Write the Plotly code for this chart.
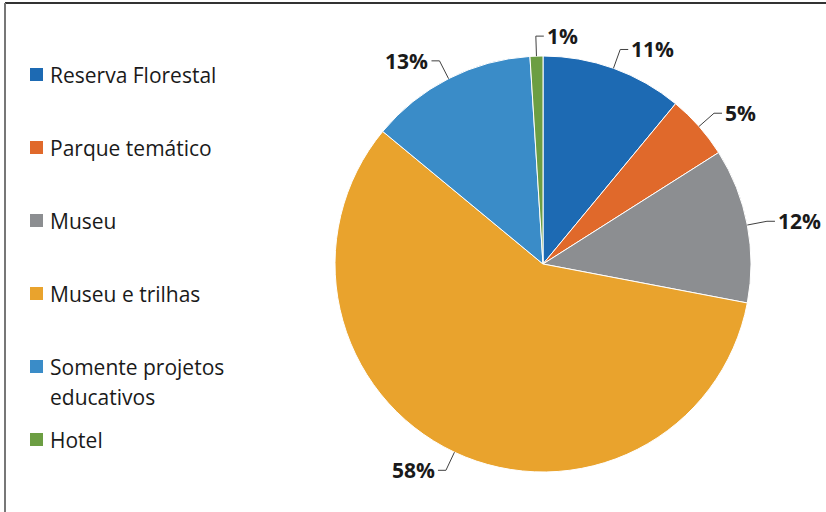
import math
import plotly.graph_objects as go

categorias = ["Reserva Florestal", "Parque temático", "Museu", "Museu e trilhas",
              "Somente projetos<br>educativos", "Hotel"]
valores = [11, 5, 12, 58, 13, 1]
cores = ["#1D6AB3", "#E0692B", "#8C8E91", "#E9A32D", "#3A8CC8", "#6C9E43"]

W, H = 826, 512
CX, CY, R = 543, 264, 208
_TXT = "#1A1A1A"


def px(x, y):
    return x / W, 1 - y / H


fig = go.Figure(go.Pie(
    labels=categorias, values=valores, sort=False, direction="clockwise",
    rotation=0, textinfo="none", hoverinfo="label+percent",
    marker=dict(colors=cores, line=dict(color="#fff", width=1)),
    domain=dict(x=[(CX - R) / W, (CX + R) / W], y=[1 - (CY + R) / H, 1 - (CY - R) / H]),
    showlegend=False,
))

shapes, annotations = [], []

# rótulos de percentual com linhas guia
total = sum(valores)
acum = 0
for v in valores:
    th = 2 * math.pi * (acum + v / 2) / total
    acum += v
    s, c = math.sin(th), math.cos(th)
    x0, y0 = CX + R * s, CY - R * c
    x1, y1 = CX + (R + 20) * s, CY - (R + 20) * c
    sign = 1 if s >= -0.05 else -1
    x2 = x1 + sign * 8
    a, b = px(x0, y0)
    a1, b1 = px(x1, y1)
    a2, b2 = px(x2, y1)
    shapes.append(dict(type="path", xref="paper", yref="paper",
                       path=f"M {a},{b} L {a1},{b1} L {a2},{b2}",
                       line=dict(color="#404040", width=1)))
    annotations.append(dict(x=a2, y=b2, xref="paper", yref="paper",
                            text=f"<b>{round(100 * v / total)}%</b>", showarrow=False,
                            xanchor="left" if sign > 0 else "right", yanchor="middle",
                            xshift=sign * 1,
                            font=dict(family="Open Sans", size=21, color=_TXT)))

# legenda manual
for i, (lab, cor) in enumerate(zip(categorias, cores)):
    yc = 74.5 + 73 * i
    a0, b0 = px(30, yc - 6.5)
    a1, b1 = px(43, yc + 6.5)
    shapes.append(dict(type="rect", xref="paper", yref="paper", x0=a0, x1=a1, y0=b0, y1=b1,
                       fillcolor=cor, line=dict(width=0)))
    for k, linha in enumerate(lab.split("<br>")):
        tx, ty = px(48, yc + 30 * k)
        annotations.append(dict(x=tx, y=ty, xref="paper", yref="paper", text=linha,
                                showarrow=False, xanchor="left", yanchor="middle",
                                font=dict(family="Open Sans", size=21, color=_TXT)))

# moldura (topo e esquerda)
xl, yt = px(5, 3)
shapes.append(dict(type="line", xref="paper", yref="paper", x0=xl, x1=1, y0=yt, y1=yt,
                   line=dict(color="#333", width=2)))
shapes.append(dict(type="line", xref="paper", yref="paper", x0=xl, x1=xl, y0=yt, y1=0,
                   line=dict(color="#777", width=2)))

fig.update_layout(
    width=W, height=H,
    margin=dict(l=0, r=0, t=0, b=0),
    plot_bgcolor="#fff", paper_bgcolor="#fff",
    shapes=shapes, annotations=annotations,
)

fig.write_html("out.html", config={"displayModeBar": False},
               post_script="document.body.style.margin='0';")
